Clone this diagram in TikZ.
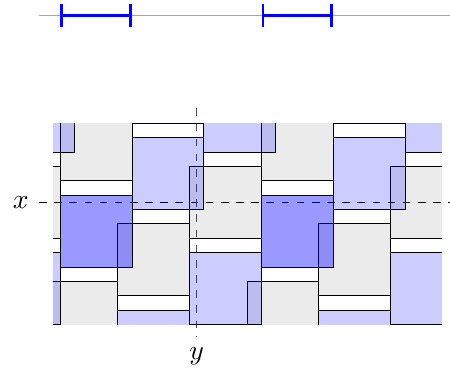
\documentclass[tikz,border=0pt]{standalone}
\begin{document}
\begin{tikzpicture}[x=1cm,y=1cm,
  graytile/.style={fill=black!8, draw=black, line width=0.35pt},
  lightblue/.style={fill=blue, fill opacity=0.2, draw=black, line width=0.35pt},
  darkblue/.style={fill=blue, fill opacity=0.4, draw=black, line width=0.35pt},
  axisline/.style={black!35, line width=0.5pt},
  interval/.style={blue, line width=1.1pt},
  hline/.style={dashed, black, line width=0.4pt},
  vline/.style={dashed, black!70, line width=0.4pt},
  lbl/.style={inner sep=0pt, font=\fontsize{11}{13}\selectfont}]
\useasboundingbox (-2.736,-2.430) rectangle (3.523,2.814);

% top axis with two intervals
\coordinate (axL) at (-2.193,2.6);
\coordinate (axR) at (3.6,2.6);
\draw[axisline] (axL) -- (axR);
\foreach \a/\b in {-1.877/-0.923, 0.923/1.877}{
  \coordinate (ia) at (\a,2.6);
  \coordinate (ib) at (\b,2.6);
  \draw[interval] (ia) -- (ib);
  \draw[interval] ([yshift=-0.162cm]ia) -- ([yshift=0.162cm]ia);
  \draw[interval] ([yshift=-0.162cm]ib) -- ([yshift=0.162cm]ib);
}

% gray tiles
\begin{scope}
\clip (-2,-1.7) rectangle (3.41,1.1);
\foreach \m in {-6,...,8}{
  \foreach \n in {-5,...,5}{
    \pgfmathsetmacro\ax{-1.9+\m+0.8*\n}
    \pgfmathsetmacro\ay{-0.9+0.8*\m-1.6*\n}
    \draw[graytile] (\ax,\ay+1.2) rectangle ++(1,1);
  }
}
\end{scope}

% reference lines
\coordinate (hL) at (-2.193,0);
\coordinate (hR) at (3.6,0);
\coordinate (vT) at (0,1.307);
\coordinate (vB) at (0,-1.878);
\draw[hline] (hL) -- (hR);
\draw[vline] (vT) -- (vB);

% blue tiles
\begin{scope}
\clip (-2,-1.7) rectangle (3.41,1.1);
\foreach \m in {-6,...,8}{
  \foreach \n in {-5,...,5}{
    \pgfmathsetmacro\ax{-1.9+\m+0.8*\n}
    \pgfmathsetmacro\ay{-0.9+0.8*\m-1.6*\n}
    \ifnum\m=\numexpr2*\n\relax\def\tilestyle{darkblue}\else\def\tilestyle{lightblue}\fi
    \draw[\tilestyle] (\ax,\ay) rectangle ++(1,1);
  }
}
\end{scope}

\node[lbl] (xlabel) at (-2.448,0) {$x$};
\node[lbl] (ylabel) at (0,-2.147) {$y$};
\end{tikzpicture}
\end{document}
